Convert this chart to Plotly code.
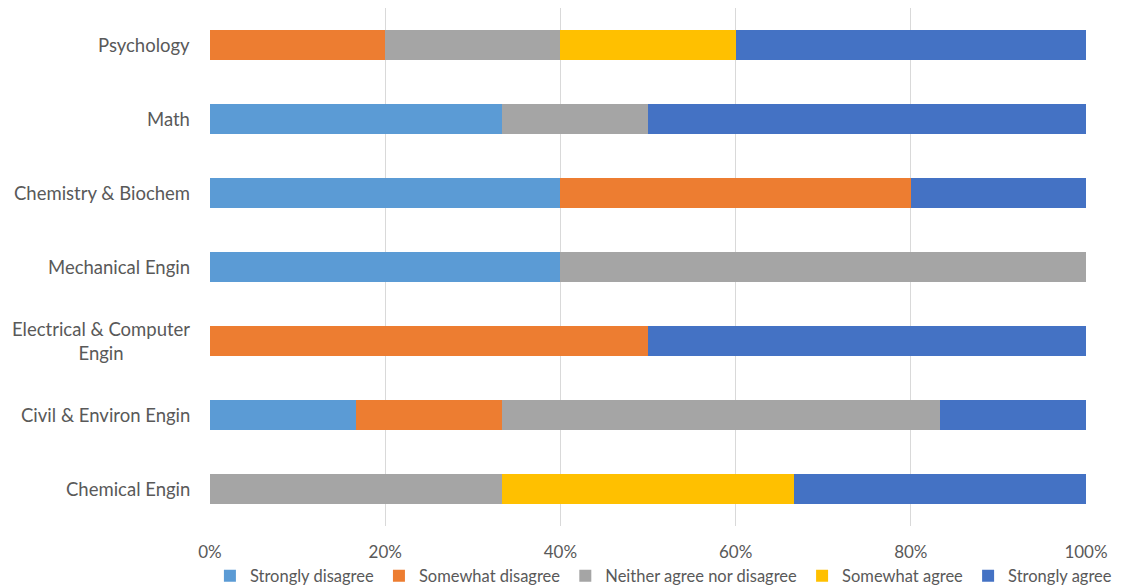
import plotly.graph_objects as go

categories = ["Chemical Engin", "Civil & Environ Engin", "Electrical & Computer<br>Engin",
              "Mechanical Engin", "Chemistry & Biochem", "Math", "Psychology"]

strongly_disagree = [0, 16.67, 0, 40, 40, 33.33, 0]
somewhat_disagree = [0, 16.67, 50, 0, 40, 0, 20]
neither = [33.33, 50, 0, 60, 0, 16.67, 20]
somewhat_agree = [33.33, 0, 0, 0, 0, 0, 20]
strongly_agree = [33.34, 16.66, 50, 0, 20, 50, 40]

series_names = ["Strongly disagree", "Somewhat disagree", "Neither agree nor disagree",
                "Somewhat agree", "Strongly agree"]
series_values = [strongly_disagree, somewhat_disagree, neither, somewhat_agree, strongly_agree]
colors = ["#5B9BD5", "#ED7D31", "#A5A5A5", "#FFC000", "#4472C4"]

x_ticks = [0, 20, 40, 60, 80, 100]
x_tick_labels = ["0%", "20%", "40%", "60%", "80%", "100%"]

FONT = "Lato"
TXT = "#595959"

fig = go.Figure()
for name, vals, col in zip(series_names, series_values, colors):
    fig.add_trace(go.Bar(
        y=categories, x=vals, name=name, orientation="h",
        marker=dict(color=col, line=dict(width=0)),
    ))

annotations = []
for c in categories:
    annotations.append(dict(
        text=c, xref="paper", x=0, xshift=-18, xanchor="right",
        yref="y", y=c, yanchor="middle", align="center", showarrow=False,
        font=dict(family=FONT, size=18.5, color=TXT),
    ))

fig.update_layout(
    barmode="stack",
    bargap=0.6,
    width=1124, height=588,
    margin=dict(l=210, r=38, t=8, b=62, autoexpand=False),
    paper_bgcolor="white", plot_bgcolor="white",
    font=dict(family=FONT, size=17, color=TXT),
    annotations=annotations,
    legend=dict(
        orientation="h", xref="paper", x=-0.0001, xanchor="left",
        yref="paper", y=-0.0965, yanchor="middle",
        font=dict(family=FONT, size=16.5, color=TXT),
        traceorder="normal", itemwidth=30,
    ),
    xaxis=dict(
        range=[0, 100], tickvals=x_ticks, ticktext=x_tick_labels,
        showgrid=True, gridcolor="#D9D9D9", gridwidth=1,
        zeroline=False, showline=False, ticks="", ticklabelstandoff=14,
        tickfont=dict(family=FONT, size=17, color=TXT),
        fixedrange=True,
    ),
    yaxis=dict(
        categoryorder="array", categoryarray=categories,
        showticklabels=False, showgrid=False, zeroline=False, showline=False,
        ticks="", fixedrange=True,
    ),
)

fig.write_html("out.html")
